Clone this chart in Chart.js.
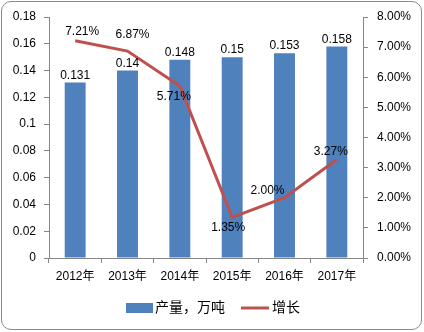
<!DOCTYPE html>
<html>
<head>
<meta charset="utf-8">
<script src="https://cdn.jsdelivr.net/npm/chart.js@4"></script>
<style>
  body { margin: 0; background: #fff; }
  #wrap { position: relative; width: 424px; height: 332px; }
  #frame { position: absolute; left: 1px; top: 1px; width: 421px; height: 329px; box-sizing: border-box;
           border: 1px solid #8a8a8a; border-radius: 10px; pointer-events: none; }
</style>
</head>
<body>
<div id="wrap">
  <canvas id="chart" width="424" height="332"></canvas>
  <div id="frame"></div>
</div>
<script>
const years = ["2012年", "2013年", "2014年", "2015年", "2016年", "2017年"];
const output = [0.131, 0.14, 0.148, 0.15, 0.153, 0.158];
const growth = [7.21, 6.87, 5.71, 1.35, 2.00, 3.27];
const leftTicks = [0, 0.02, 0.04, 0.06, 0.08, 0.1, 0.12, 0.14, 0.16, 0.18];
const rightTicks = [0, 1, 2, 3, 4, 5, 6, 7, 8];

const FONT = "'Liberation Sans', 'Noto Sans CJK SC', sans-serif";
const BLUE = "#4F81BD";
const RED = "#C0504D";
const AXIS = "#868686";

// label offsets for the growth line (dx, dy from the point)
const lineLabelOffsets = [[7, -9], [5, -16], [-6, 11], [-4, 10], [-17, -7], [-6, -8]];

const labelsPlugin = {
    id: "valueLabels",
    afterDatasetsDraw(chart) {
        const ctx = chart.ctx;
        ctx.save();
        ctx.font = "12px " + FONT;
        ctx.fillStyle = "#000";
        ctx.textAlign = "center";
        ctx.textBaseline = "middle";
        chart.getDatasetMeta(0).data.forEach((bar, i) => {
            ctx.fillText(String(output[i]), bar.x, bar.y - 7);
        });
        chart.getDatasetMeta(1).data.forEach((pt, i) => {
            const o = lineLabelOffsets[i];
            ctx.fillText(growth[i].toFixed(2) + "%", pt.x + o[0], pt.y + o[1]);
        });
        ctx.restore();
    }
};

const legendPlugin = {
    id: "bottomLegend",
    afterDraw(chart) {
        const ctx = chart.ctx;
        ctx.save();
        ctx.font = "14px " + FONT;
        ctx.textBaseline = "middle";
        ctx.fillStyle = BLUE;
        ctx.fillRect(126, 303, 27, 10);
        ctx.fillStyle = "#000";
        ctx.fillText(chart.data.datasets[0].label, 155, 308);
        ctx.strokeStyle = RED;
        ctx.lineWidth = 3;
        ctx.beginPath();
        ctx.moveTo(241, 308);
        ctx.lineTo(269, 308);
        ctx.stroke();
        ctx.fillText(chart.data.datasets[1].label, 272, 308);
        ctx.restore();
    }
};

const ctx = document.getElementById("chart").getContext("2d");
const chart = new Chart(ctx, {
    data: {
        labels: years,
        datasets: [{
            type: "bar",
            label: "产量，万吨",
            data: output,
            yAxisID: "y",
            backgroundColor: BLUE,
            categoryPercentage: 1,
            barPercentage: 0.4,
            order: 1
        }, {
            type: "line",
            label: "增长",
            data: growth,
            yAxisID: "y1",
            borderColor: RED,
            borderWidth: 3,
            pointRadius: 0,
            tension: 0,
            order: 0
        }]
    },
    options: {
        responsive: false,
        animation: false,
        layout: { padding: { left: 0, right: 0, top: 17, bottom: 44 } },
        plugins: { legend: { display: false }, tooltip: { enabled: false } },
        scales: {
            x: {
                offset: true,
                grid: { offset: true, drawOnChartArea: false, color: AXIS, tickLength: 5 },
                border: { color: AXIS },
                ticks: { color: "#000", font: { family: FONT, size: 12 }, padding: 6, maxRotation: 0 },
                afterFit(s) { s.height = 30; }
            },
            y: {
                position: "left",
                min: 0,
                max: 0.18,
                afterBuildTicks(s) { s.ticks = leftTicks.map(v => ({ value: v })); },
                grid: { drawOnChartArea: false, color: AXIS, tickLength: 5 },
                border: { color: AXIS },
                ticks: { color: "#000", font: { family: FONT, size: 12 }, padding: 8,
                         callback: v => String(v) },
                afterFit(s) { s.width = 49; }
            },
            y1: {
                position: "right",
                min: 0,
                max: 8,
                afterBuildTicks(s) { s.ticks = rightTicks.map(v => ({ value: v })); },
                grid: { drawOnChartArea: false, color: AXIS, tickLength: 5 },
                border: { color: AXIS },
                ticks: { color: "#000", font: { family: FONT, size: 12 }, padding: 9,
                         callback: v => v.toFixed(2) + "%" },
                afterFit(s) { s.width = 61; }
            }
        }
    },
    plugins: [labelsPlugin, legendPlugin]
});
</script>
</body>
</html>
